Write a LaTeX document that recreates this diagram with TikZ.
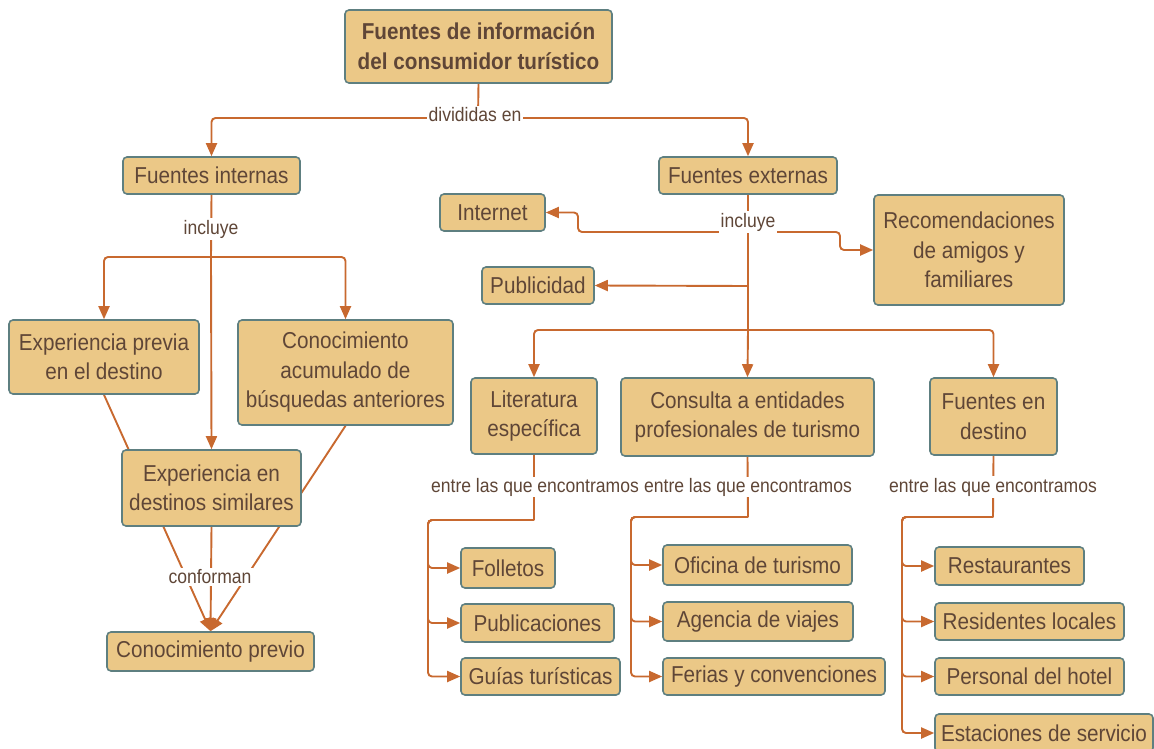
\documentclass[tikz,border=0pt]{standalone}
\usepackage{fontspec}
\setmainfont{Liberation Sans}[FakeStretch=0.9]
\usetikzlibrary{arrows.meta}
\definecolor{boxfill}{HTML}{EBC887}
\definecolor{boxdraw}{HTML}{5E7F80}
\definecolor{conncol}{HTML}{C8692F}
\definecolor{txtcol}{HTML}{5F4637}
\pgfdeclarelayer{bg}
\pgfsetlayers{bg,main}
\begin{document}
\begin{tikzpicture}[x=1pt,y=-1pt,
  box/.style={draw=boxdraw, fill=boxfill, line width=1.6pt, rounded corners=4pt,
    text=txtcol, align=center, inner sep=0pt, font=\fontsize{23}{29.5}\selectfont},
  titlebox/.style={box, font=\fontsize{23}{30}\selectfont\bfseries},
  lbl/.style={fill=white, text=txtcol, inner sep=1.5pt, font=\fontsize{19.5}{22}\selectfont},
  conn/.style={draw=conncol, line width=1.9pt, rounded corners=4pt, -{Triangle[length=13pt,width=11pt]}},
  plain/.style={draw=conncol, line width=1.9pt, rounded corners=4pt}]
\useasboundingbox (0,0) rectangle (1154,749);

% boxes
\node[titlebox, minimum width=267pt, minimum height=73pt] (title) at (478.5,46.5) {Fuentes de información\\del consumidor turístico};
\node[box, minimum width=177pt, minimum height=37pt] (fi) at (211.5,175.5) {Fuentes internas};
\node[box, minimum width=178pt, minimum height=37pt] (fe) at (748,175.5) {Fuentes externas};
\node[box, minimum width=190pt, minimum height=74pt] (ep) at (104,357) {Experiencia previa\\en el destino};
\node[box, minimum width=215pt, minimum height=105pt] (ca) at (345.5,372.5) {Conocimiento\\acumulado de\\búsquedas anteriores};
\node[box, minimum width=179pt, minimum height=76pt] (eds) at (211.5,488) {Experiencia en\\destinos similares};
\node[box, minimum width=207pt, minimum height=39pt] (cp) at (210.5,651.5) {Conocimiento previo};
\node[box, minimum width=105pt, minimum height=37pt] (inet) at (492.5,212.5) {Internet};
\node[box, minimum width=112pt, minimum height=37pt] (pub) at (538,285.5) {Publicidad};
\node[box, minimum width=190pt, minimum height=110pt] (rec) at (969,250) {Recomendaciones\\de amigos y\\familiares};
\node[box, minimum width=126pt, minimum height=76pt] (lit) at (534,416) {Literatura\\específica};
\node[box, minimum width=253pt, minimum height=78pt] (con) at (747.5,417) {Consulta a entidades\\profesionales de turismo};
\node[box, minimum width=127pt, minimum height=77pt] (fd) at (993.5,416.5) {Fuentes en\\destino};
\node[box, minimum width=94pt, minimum height=40pt] (fol) at (508,568) {Folletos};
\node[box, minimum width=153pt, minimum height=38pt] (publ) at (537.5,623) {Publicaciones};
\node[box, minimum width=159pt, minimum height=37pt] (guia) at (540.5,676.5) {Guías turísticas};
\node[box, minimum width=189pt, minimum height=40pt] (ofi) at (757.5,565) {Oficina de turismo};
\node[box, minimum width=190pt, minimum height=39pt] (age) at (758,621.5) {Agencia de viajes};
\node[box, minimum width=222pt, minimum height=37pt] (fer) at (774,676.5) {Ferias y convenciones};
\node[box, minimum width=149pt, minimum height=38pt] (res) at (1009.5,566) {Restaurantes};
\node[box, minimum width=189pt, minimum height=37pt] (resl) at (1029.5,621.5) {Residentes locales};
\node[box, minimum width=189pt, minimum height=37pt] (per) at (1029.5,676.5) {Personal del hotel};
\node[box, minimum width=218pt, minimum height=38pt] (est) at (1044,733) {Estaciones de servicio};

% junctions
\coordinate (jd) at (478,118);
\coordinate (ji) at (211,257);
\coordinate (je) at (748,330);
\coordinate (jinc) at (748,232);
\coordinate (jpub) at (748,286);
\coordinate (jl) at (534,520);
\coordinate (jc) at (748,517);
\coordinate (jf) at (993,517);

\begin{pgfonlayer}{bg}
\draw[plain] (title.south) -- (jd);
\draw[conn] (jd) -| (fi.north);
\draw[conn] (jd) -| (fe.north);
% internas
\draw[plain] (fi.south) -- (ji);
\draw[conn] (ji) -| (ep.north);
\draw[conn] (ji) -| (ca.north);
\draw[conn] (ji) -- (eds.north);
\draw[conn] (ep.south) -- (cp.north);
\draw[conn] (ca.south) -- (cp.north);
\draw[conn] (eds.south) -- (cp.north);
% externas
\draw[plain] (fe.south) -- (je);
\draw[conn] (jinc) -- (578,232) |- (inet.east);
\draw[conn] (jinc) -- (840,232) |- (rec.west);
\draw[conn] (jpub) -- (pub.east);
\draw[conn] (je) -| (lit.north);
\draw[conn] (je) -- (con.north);
\draw[conn] (je) -| (fd.north);
% literatura
\draw[plain] (lit.south) -- (jl);
\draw[conn] (jl) -- (428,520) |- (fol.west);
\draw[conn] (jl) -- (428,520) |- (publ.west);
\draw[conn] (jl) -- (428,520) |- (guia.west);
% consulta
\draw[plain] (con.south) -- (jc);
\draw[conn] (jc) -- (631,517) |- (ofi.west);
\draw[conn] (jc) -- (631,517) |- (age.west);
\draw[conn] (jc) -- (631,517) |- (fer.west);
% destino
\draw[plain] (fd.south) -- (jf);
\draw[conn] (jf) -- (902,517) |- (res.west);
\draw[conn] (jf) -- (902,517) |- (resl.west);
\draw[conn] (jf) -- (902,517) |- (per.west);
\draw[conn] (jf) -- (902,517) |- (est.west);
\end{pgfonlayer}

% labels
\node[lbl] (ldiv) at (475,115) {divididas en};
\node[lbl] (linci) at (211,229) {incluye};
\node[lbl] (lince) at (748,222) {incluye};
\node[lbl] (lconf) at (210,577) {conforman};
\node[lbl, inner sep=0.5pt] (lent1) at (535,487) {entre las que encontramos};
\node[lbl, inner sep=0.5pt] (lent2) at (748,487) {entre las que encontramos};
\node[lbl] (lent3) at (993,487) {entre las que encontramos};
\end{tikzpicture}
\end{document}
